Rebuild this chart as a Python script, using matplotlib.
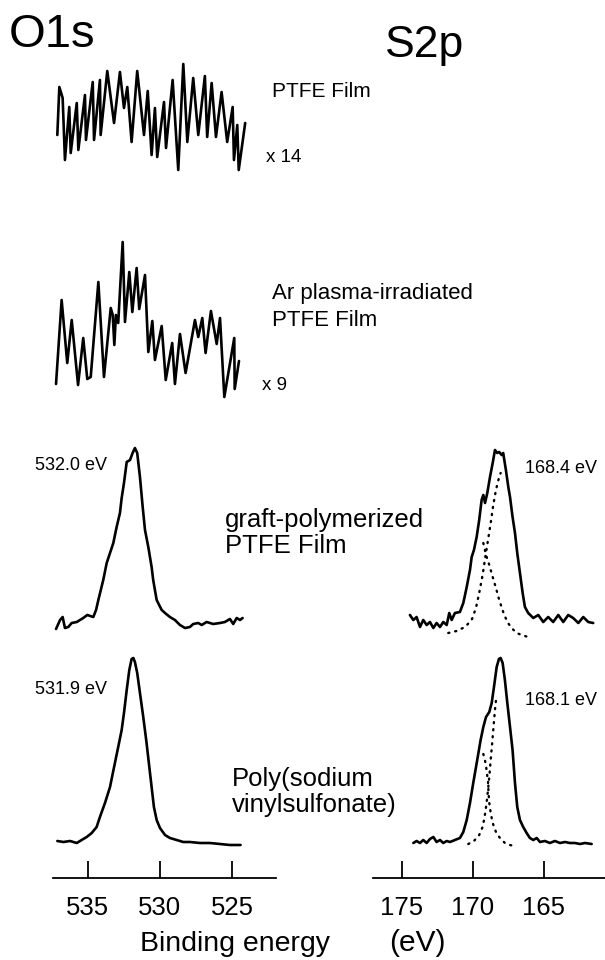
import matplotlib
matplotlib.use("Agg")
import matplotlib.pyplot as plt

plt.rcParams['font.family'] = ['Liberation Sans', 'DejaVu Sans']

# ---------------- data (binding energy in eV, intensity in a.u.) ----------------
PTFE_E = [537.13, 536.99, 536.76, 536.60, 536.30, 536.20, 535.78, 535.67, 535.21, 535.14,
          534.67, 534.58, 534.17, 534.12, 533.66, 533.19, 532.78, 532.50, 532.27, 531.97,
          531.58, 531.11, 530.85, 530.58, 530.35, 530.19, 529.72, 529.58, 529.12, 528.73,
          528.38, 528.10, 527.69, 527.34, 526.88, 526.72, 526.41, 526.11, 525.72, 525.33,
          524.95, 524.86, 524.63, 524.53, 524.08]
PTFE_I = [40, 88, 77, 15, 68, 22, 72, 25, 80, 35,
          93, 35, 95, 40, 104, 52, 103, 67, 88, 33,
          104, 40, 84, 20, 67, 18, 73, 27, 95, 5,
          111, 33, 97, 40, 99, 38, 92, 38, 83, 33,
          68, 15, 50, 5, 52]

AR_E = [537.22, 536.83, 536.44, 536.13, 535.69, 535.33, 535.05, 534.81, 534.28, 533.89,
        533.42, 533.28, 533.17, 533.06, 532.90, 532.59, 532.43, 532.13, 531.92, 531.62,
        531.44, 531.04, 530.81, 530.53, 530.35, 529.88, 529.60, 529.15, 528.96, 528.61,
        528.22, 527.57, 527.34, 527.06, 526.83, 526.46, 526.06, 525.83, 525.53, 524.84,
        524.81, 524.51]
AR_I = [16, 100, 37, 80, 15, 62, 21, 23, 118, 23,
        92, 85, 55, 85, 77, 158, 78, 128, 88, 132,
        91, 125, 48, 79, 40, 74, 20, 57, 16, 66,
        27, 80, 63, 82, 47, 89, 56, 82, 3, 62,
        11, 39]

GRAFT_O_E = [537.22, 536.94, 536.76, 536.60, 536.37, 536.13, 535.78, 535.33, 535.05, 534.63,
             534.44, 534.28, 533.94, 533.70, 533.47, 533.24, 533.01, 532.78, 532.66, 532.50,
             532.31, 532.08, 531.90, 531.74, 531.58, 531.39, 531.20, 531.04, 530.81, 530.58,
             530.47, 530.23, 529.88, 529.65, 529.31, 528.96, 528.61, 528.26, 527.92, 527.69,
             527.34, 527.10, 526.76, 526.30, 525.83, 525.49, 525.14, 524.91, 524.67, 524.44,
             524.26]
GRAFT_O_I = [1, 10, 13, 2, 3, 7, 8, 12, 15, 13,
             20, 30, 50, 67, 77, 87, 103, 117, 132, 147,
             168, 170, 177, 182, 177, 153, 123, 100, 83, 63,
             50, 30, 20, 17, 13, 10, 5, 2, 3, 6,
             7, 5, 8, 6, 7, 8, 11, 6, 12, 10,
             12]

POLY_O_E = [537.13, 536.71, 536.25, 535.78, 535.44, 535.09, 534.74, 534.40, 534.17, 533.82,
            533.47, 533.13, 532.90, 532.66, 532.50, 532.31, 532.13, 531.97, 531.85, 531.74,
            531.58, 531.39, 531.16, 530.93, 530.74, 530.58, 530.42, 530.23, 530.00, 529.65,
            529.31, 528.84, 528.38, 527.92, 527.22, 526.53, 525.83, 525.14, 524.40]
POLY_O_I = [4, 3, 4, 2, 5, 8, 12, 18, 28, 42,
            58, 82, 98, 115, 132, 155, 175, 186, 187, 183,
            172, 152, 128, 102, 78, 58, 38, 25, 17, 10,
            7, 5, 3, 3, 2, 2, 1, 0, 0]

GRAFT_S_E = [174.44, 174.20, 173.97, 173.73, 173.50, 173.26, 173.03, 172.79, 172.56, 172.32,
             172.09, 171.85, 171.67, 171.50, 171.27, 170.92, 170.68, 170.44, 170.21, 170.09,
             169.93, 169.74, 169.56, 169.39, 169.27, 169.15, 168.99, 168.80, 168.61, 168.45,
             168.29, 168.15, 167.98, 167.87, 167.68, 167.51, 167.39, 167.21, 167.04, 166.88,
             166.69, 166.50, 166.34, 166.11, 165.75, 165.40, 165.05, 164.70, 164.35, 163.99,
             163.64, 163.29, 162.94, 162.58, 162.23, 161.88, 161.53]
GRAFT_S_I = [15, 10, 13, 3, 10, 5, 8, 2, 7, 3,
             8, 5, 17, 10, 17, 18, 27, 43, 60, 73,
             80, 93, 110, 130, 135, 127, 137, 153, 167, 180,
             177, 178, 175, 177, 160, 143, 133, 113, 97, 77,
             57, 37, 23, 17, 12, 15, 8, 13, 8, 15,
             8, 15, 12, 7, 13, 8, 7]
GRAFT_S_C1_E = [171.74, 171.15, 170.56, 170.09, 169.79, 169.56, 169.32, 169.13, 168.94, 168.75,
                168.57, 168.38, 168.19, 168.05]
GRAFT_S_C1_I = [-3, -1, 3, 10, 22, 37, 55, 73, 90, 107, 125, 140, 151, 157]
GRAFT_S_C2_E = [169.27, 169.08, 168.85, 168.61, 168.38, 168.15, 167.87, 167.58, 167.28, 166.92,
                166.57, 166.11]
GRAFT_S_C2_I = [87, 75, 65, 53, 42, 30, 18, 8, 2, -3, -5, -7]

POLY_S_E = [174.20, 173.97, 173.73, 173.50, 173.26, 173.03, 172.79, 172.56, 172.32, 172.09,
            171.85, 171.62, 171.27, 170.92, 170.68, 170.44, 170.21, 169.98, 169.70, 169.46,
            169.27, 169.08, 168.85, 168.68, 168.52, 168.33, 168.17, 168.05, 167.91, 167.75,
            167.58, 167.39, 167.21, 167.04, 166.88, 166.69, 166.46, 166.22, 165.99, 165.75,
            165.51, 165.28, 164.93, 164.58, 164.23, 163.87, 163.52, 163.17, 162.82, 162.46,
            162.11, 161.64]
POLY_S_I = [2, 4, 2, 5, 2, 6, 8, 3, 5, 2,
            4, 3, 5, 7, 13, 25, 42, 62, 85, 105,
            118, 128, 133, 142, 158, 178, 186, 187, 182, 165,
            142, 118, 95, 62, 38, 25, 18, 12, 7, 5,
            7, 3, 4, 2, 4, 2, 3, 2, 2, 1,
            2, 1]
POLY_S_C1_E = [170.33, 169.93, 169.56, 169.32, 169.18, 169.08, 168.99, 168.92, 168.85, 168.78,
               168.71, 168.64, 168.57, 168.50, 168.43, 168.36]
POLY_S_C1_I = [1, 4, 10, 18, 28, 38, 48, 58, 68, 80, 92, 103, 115, 127, 138, 147]
POLY_S_C2_E = [169.27, 169.13, 169.04, 168.94, 168.90, 168.85, 168.75, 168.61, 168.38, 168.10,
               167.75, 167.39, 167.11]
POLY_S_C2_I = [91, 83, 75, 63, 52, 42, 32, 22, 13, 7, 2, 0, -1]

O_TICKS = [535, 530, 525]
S_TICKS = [175, 170, 165]

# stacking offsets (a.u.)
OFF_PTFE, OFF_AR, OFF_GRAFT, OFF_POLY = 703, 478, 248, 33

# ---------------- figure ----------------
W, H = 605, 960
fig = plt.figure(figsize=(W / 100, H / 100), dpi=100)

def fx(px):
    return px / W

def fy(py):
    return 1 - py / H

axL = fig.add_axes([fx(53), fy(878), fx(276) - fx(53), 878 / H])
axR = fig.add_axes([fx(373), fy(878), fx(605) - fx(373), 878 / H])

axL.set_xlim(537.43, 521.94)
axR.set_xlim(177.04, 160.70)

lw = 1.9
def shift(vals, off):
    return [v + off for v in vals]

solid = dict(color='black', lw=lw, solid_joinstyle='round', solid_capstyle='round')
axL.plot(PTFE_E, shift(PTFE_I, OFF_PTFE), **solid)
axL.plot(AR_E, shift(AR_I, OFF_AR), **solid)
axL.plot(GRAFT_O_E, shift(GRAFT_O_I, OFF_GRAFT), **solid)
axL.plot(POLY_O_E, shift(POLY_O_I, OFF_POLY), **solid)

dot = dict(color='black', lw=1.7, linestyle=(0, (0.5, 2.5)), dash_capstyle='round')
axR.plot(GRAFT_S_E, shift(GRAFT_S_I, OFF_GRAFT), **solid)
axR.plot(GRAFT_S_C1_E, shift(GRAFT_S_C1_I, OFF_GRAFT), **dot)
axR.plot(GRAFT_S_C2_E, shift(GRAFT_S_C2_I, OFF_GRAFT), **dot)
axR.plot(POLY_S_E, shift(POLY_S_I, OFF_POLY), **solid)
axR.plot(POLY_S_C1_E, shift(POLY_S_C1_I, OFF_POLY), **dot)
axR.plot(POLY_S_C2_E, shift(POLY_S_C2_I, OFF_POLY), **dot)

for ax, ticks in ((axL, O_TICKS), (axR, S_TICKS)):
    ax.set_ylim(0, 878)
    ax.set_yticks([])
    ax.set_xticks(ticks)
    ax.set_xticklabels([str(t) for t in ticks])
    for s in ('top', 'left', 'right'):
        ax.spines[s].set_visible(False)
    ax.spines['bottom'].set_linewidth(1.3)
    ax.tick_params(axis='x', direction='in', length=12, width=1.3, pad=13,
                   labelsize=18.5, colors='black')
    ax.patch.set_alpha(0)

# ---------------- texts ----------------
def t(px, py, s, size, **kw):
    fig.text(fx(px), fy(py), s, fontsize=size, ha='left', va='baseline', **kw)

t(9, 47, 'O1s', 34)
t(385, 57, 'S2p', 32)
t(272, 97, 'PTFE Film', 15)
t(266, 162, 'x 14', 13.5)
t(272, 299, 'Ar plasma-irradiated', 16)
t(272, 326, 'PTFE Film', 16)
t(262, 390, 'x 9', 13.5)
t(225, 527, 'graft-polymerized', 18.5)
t(225, 553, 'PTFE Film', 18.5)
t(232, 786, 'Poly(sodium', 18.5)
t(232, 812, 'vinylsulfonate)', 18.5)
t(35, 470, '532.0 eV', 13)
t(35, 694, '531.9 eV', 13)
t(525, 473, '168.4 eV', 13)
t(525, 705, '168.1 eV', 13)
t(140, 951, 'Binding energy', 20.5)
t(389, 951, '(eV)', 21.5)

fig.savefig('out.png', dpi=100)
